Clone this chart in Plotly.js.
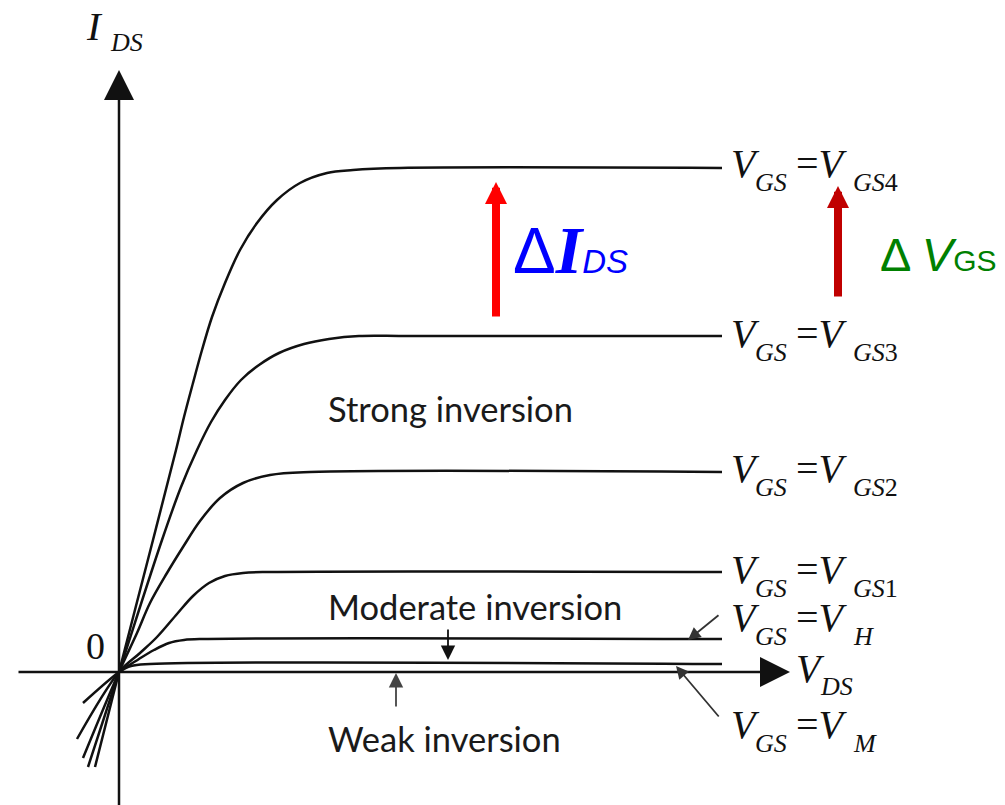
<!DOCTYPE html>
<html>
<head>
<meta charset="utf-8">
<script src="https://cdn.plot.ly/plotly-3.0.1.min.js"></script>
<style>html,body{margin:0;padding:0;background:#fff;}#chart{width:1005px;height:805px;}</style>
</head>
<body>
<div id="chart"></div>
<script>
// ---- data (arbitrary units, origin at the axes' crossing) ----
const vgs4X = [-24, 0, 34, 57, 65, 74, 83, 93, 106, 121, 138, 158, 181, 208, 234, 281, 603];
const vgs4Y = [-95, 0, 132, 222, 255, 289, 322, 355, 389, 422, 449, 472, 489, 499, 502, 504, 504];
const vgs3X = [-31, 0, 43, 62, 78, 92, 106, 122, 140, 160, 185, 210, 240, 290, 603];
const vgs3Y = [-95, 0, 132, 185, 222, 250, 272, 292, 307, 319, 328, 333, 336, 336, 336];
const vgs2X = [-36, 0, 18, 31, 48, 64, 81, 101, 124, 151, 191, 603];
const vgs2Y = [-86, 0, 39, 69, 99, 125, 151, 174, 189, 197, 200, 200];
const vgs1X = [-42, 0, 21, 38, 58, 74, 90, 106, 124, 150, 603];
const vgs1Y = [-67, 0, 19, 35, 58, 76, 89, 96, 99, 100, 100];
const vhX = [-36, 0, 20, 35, 50, 65, 85, 603];
const vhY = [-31, 0, 13, 22, 29, 32, 33, 33];
const vmX = [0, 12, 31, 603];
const vmY = [0, 6, 8, 8];

const curveNames = ['V_GS4', 'V_GS3', 'V_GS2', 'V_GS1', 'V_H', 'V_M'];
const labelSubs = ['GS', 'GS', 'GS', 'GS', 'H', 'M'];
const labelIdx = ['4', '3', '2', '1', '', ''];
const labelRowY = [509, 339, 204, 103, 55, -52];

const regionTexts = ['Strong inversion', 'Moderate inversion', 'Weak inversion'];
const regionY = [264, 66, -66];

// ---- traces ----
const xs = [vgs4X, vgs3X, vgs2X, vgs1X, vhX, vmX];
const ys = [vgs4Y, vgs3Y, vgs2Y, vgs1Y, vhY, vmY];
const traces = xs.map((x, i) => ({
  type: 'scatter', mode: 'lines', name: curveNames[i], x: x, y: ys[i],
  line: {color: '#111', width: 2.5, shape: 'spline', smoothing: 1},
  hoverinfo: 'skip'
}));

const serif = 'Liberation Serif, Times New Roman, serif';
const sans = 'Lato, Open Sans, sans-serif';
const ann = [];
function txt(x, y, text, size, opts) {
  ann.push(Object.assign({
    x: x, y: y, xref: 'x', yref: 'y', text: text, showarrow: false,
    xanchor: 'left', yanchor: 'middle', borderpad: 0,
    font: {family: serif, size: size, color: '#111'}
  }, opts || {}));
}
function arrow(x, y, ax, ay, color, width, size) {
  ann.push({
    x: x, y: y, ax: ax, ay: ay, xref: 'x', yref: 'y', axref: 'x', ayref: 'y',
    text: '', showarrow: true, arrowhead: 2, arrowsize: size, arrowwidth: width,
    arrowcolor: color, standoff: 0, startstandoff: 0
  });
}

// curve labels
labelSubs.forEach((s, i) => {
  const y = labelRowY[i];
  txt(611, y, '<i>V</i>', 40);
  txt(635, y - 19, '<i>GS</i>', 26);
  txt(676, y, '=<i>V</i>', 40);
  txt(733, y - 19, '<i>' + s + '</i>' + labelIdx[i], 26);
});

// axis titles and origin
txt(-34, 646, '<i>I</i>', 41);
txt(-10, 630, '<i>DS</i>', 26);
txt(-24, 26, '0', 38, {xanchor: 'center'});
txt(676, 4, '<i>V</i>', 40);
txt(700, -14, '<i>DS</i>', 26);

// region texts
regionTexts.forEach((t, i) => {
  txt(208, regionY[i], t, 34.5, {font: {family: sans, size: 34.5, color: '#1a1a1a'}});
});

// delta labels
txt(393, 383, '<span style="font-family:Liberation Sans">Δ</span><span style="font-family:Liberation Serif;font-size:68px"><b><i>I</i></b></span><span style="font-family:Liberation Sans;font-size:33px"><i>DS</i></span>', 64,
  {yanchor: 'bottom', font: {family: 'Liberation Sans, Arial, sans-serif', size: 64, color: '#0000ff'}});
txt(760, 390, 'Δ <i>V</i><span style="font-size:30px">GS</span>', 47,
  {yanchor: 'bottom', font: {family: 'Liberation Sans, Arial, sans-serif', size: 47, color: '#008000'}});

// axes with arrowheads
arrow(671, 0, -102, 0, '#111', 2.5, 2.4);
arrow(0, 602, 0, -140, '#111', 2.5, 2.4);

// delta arrows
arrow(377, 490, 377, 354, '#ff0000', 8, 0.55);
arrow(719, 486, 719, 374, '#c00000', 8, 0.55);

// pointer arrows
arrow(329, 12, 329, 44, '#111', 1.8, 1.6);
arrow(277, -1, 277, -36, '#444', 1.8, 1.6);
arrow(569, 32, 601, 58, '#333', 1.8, 1.4);
arrow(557, 6, 601, -46, '#333', 1.8, 1.4);

const layout = {
  width: 1005, height: 805,
  margin: {l: 0, r: 0, t: 0, b: 0, pad: 0},
  paper_bgcolor: '#fff', plot_bgcolor: '#fff',
  showlegend: false,
  xaxis: {range: [-119, 886], visible: false, fixedrange: true},
  yaxis: {range: [-133, 672], visible: false, fixedrange: true},
  annotations: ann
};
Plotly.newPlot('chart', traces, layout, {staticPlot: true, displayModeBar: false});
</script>
</body>
</html>
